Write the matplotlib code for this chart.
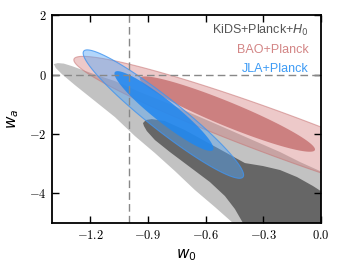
import numpy as np
import matplotlib
matplotlib.use("Agg")
import matplotlib.pyplot as plt

plt.rcParams["font.family"] = ["Liberation Sans", "DejaVu Sans"]
plt.rcParams["mathtext.fontset"] = "cm"

# ---- KiDS+Planck+H0 contours, outline (w0, wa) ----
kids95_w0 = [-1.390, -1.369, -1.338, -1.296, -1.239, -1.166, -1.072, -0.942, -0.786,
             -0.630, -0.474, -0.344, -0.213, -0.109, -0.005, 0.099, 0.099, -0.396,
             -0.458, -0.552, -0.656, -0.760, -0.864, -0.968, -1.072, -1.176, -1.280,
             -1.348, -1.379]
kids95_wa = [0.351, 0.385, 0.368, 0.284, 0.149, -0.019, -0.221, -0.591, -0.995,
             -1.433, -1.870, -2.240, -2.610, -2.947, -3.250, -3.553, -5.572, -5.572,
             -5.000, -4.461, -3.889, -3.250, -2.644, -2.072, -1.433, -0.894, -0.356,
             0.015, 0.216]

kids68_w0 = [-0.926, -0.911, -0.880, -0.812, -0.708, -0.604, -0.500, -0.396, -0.302,
             -0.213, -0.125, -0.042, 0.047, 0.125, -0.370, -0.406, -0.448, -0.500,
             -0.578, -0.682, -0.786, -0.864, -0.906, -0.921]
kids68_wa = [-1.634, -1.533, -1.500, -1.567, -1.870, -2.240, -2.610, -2.981, -3.081,
             -3.216, -3.452, -3.754, -4.125, -5.572, -5.572, -5.000, -4.528, -4.091,
             -3.620, -3.115, -2.610, -2.206, -1.904, -1.735]

# ---- BAO+Planck and JLA+Planck: ellipses (centre, semi-axis vectors) ----
bao95_centre = (-0.213, -2.038)
bao95_major = (1.072, -2.557)
bao95_minor = (-0.0396, -0.694)
bao68_centre = (-0.487, -1.332)
bao68_major = (0.455, -1.211)
bao68_minor = (-0.0238, -0.374)

jla95_centre = (-0.820, -1.332)
jla95_major = (0.414, -2.120)
jla95_minor = (-0.0517, -0.422)
jla68_centre = (-0.817, -1.230)
jla68_major = (0.255, -1.312)
jla68_minor = (-0.0357, -0.290)

xticks = [-1.2, -0.9, -0.6, -0.3, 0.0]
xticklabels = [r"$-1.2$", r"$-0.9$", r"$-0.6$", r"$-0.3$", r"$0.0$"]
yticks = [-4, -2, 0, 2]
yticklabels = [r"$-4$", r"$-2$", r"$0$", r"$2$"]

labels = ["KiDS+Planck+$H_0$", "BAO+Planck", "JLA+Planck"]
label_colors = ["#555555", "#d38585", "#3d9bf5"]


def ellipse(centre, major, minor):
    t = np.linspace(0, 2 * np.pi, 240)
    x = centre[0] + major[0] * np.cos(t) + minor[0] * np.sin(t)
    y = centre[1] + major[1] * np.cos(t) + minor[1] * np.sin(t)
    return x, y


fig = plt.figure(figsize=(3.39, 2.70), dpi=100)
ax = fig.add_axes([0.153, 0.174, 0.794, 0.770])

ax.fill(kids95_w0, kids95_wa, color="#c2c2c2", lw=0)
ax.fill(kids68_w0, kids68_wa, color="#666666", lw=0)

ax.fill(*ellipse(bao95_centre, bao95_major, bao95_minor), facecolor=(0.82, 0.45, 0.45, 0.38),
        edgecolor=(0.78, 0.45, 0.45, 0.55), lw=0.8)
ax.fill(*ellipse(bao68_centre, bao68_major, bao68_minor), facecolor=(0.78, 0.45, 0.45, 0.85),
        lw=0)

ax.fill(*ellipse(jla95_centre, jla95_major, jla95_minor), facecolor=(0.33, 0.65, 0.97, 0.45),
        edgecolor=(0.25, 0.58, 0.94, 0.8), lw=0.8)
ax.fill(*ellipse(jla68_centre, jla68_major, jla68_minor), facecolor=(0.12, 0.53, 0.94, 0.85),
        lw=0)

ax.axvline(-1.0, color="#888888", lw=1.0, dashes=(5.5, 3))
ax.axhline(0.0, color="#888888", lw=1.0, dashes=(5.5, 3))

ax.set_xlim(-1.4, 0.0)
ax.set_ylim(-5, 2)
ax.set_xticks(xticks)
ax.set_xticklabels(xticklabels, fontsize=9)
ax.set_yticks(yticks)
ax.set_yticklabels(yticklabels, fontsize=9)
ax.tick_params(direction="in", length=5, width=1, top=True, right=True, pad=4)
for s in ax.spines.values():
    s.set_linewidth(1.3)

ax.set_xlabel("$w_0$", fontsize=11, math_fontfamily="dejavusans")
ax.set_ylabel("$w_a$", fontsize=11, math_fontfamily="dejavusans")
ax.xaxis.set_label_coords(0.5, -0.115)
ax.yaxis.set_label_coords(-0.115, 0.5)

for lab, col, yy in zip(labels, label_colors, [0.909, 0.817, 0.726]):
    ax.text(0.955, yy, lab, transform=ax.transAxes, ha="right", va="baseline",
            fontsize=9, color=col, math_fontfamily="dejavusans")

fig.savefig("out.png", dpi=100)
